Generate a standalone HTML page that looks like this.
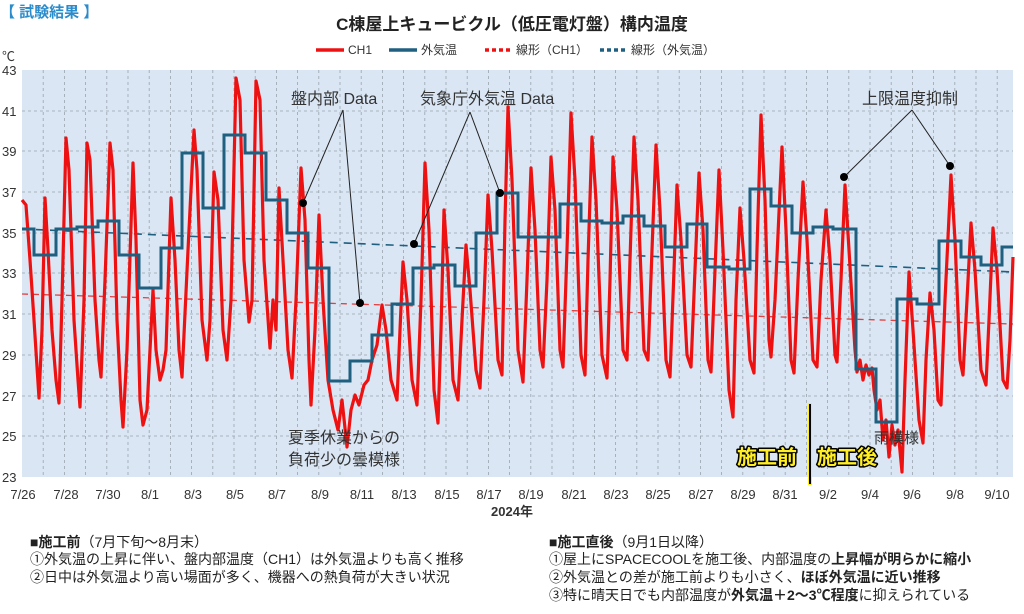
<!DOCTYPE html>
<html><head><meta charset="utf-8"><style>
body{margin:0;background:#fff;}
svg{display:block;font-family:"Liberation Sans","Noto Sans CJK JP",sans-serif;}
</style></head><body>
<svg width="1024" height="614" viewBox="0 0 1024 614" xmlns="http://www.w3.org/2000/svg">
<rect width="1024" height="614" fill="#fff"/>
<text x="0" y="17" font-size="15" font-weight="bold" fill="#2b8ccc">【 試験結果 】</text>
<text x="512" y="30" font-size="17" font-weight="bold" fill="#222" text-anchor="middle">C棟屋上キュービクル（低圧電灯盤）構内温度</text>
<g font-size="12" fill="#333">
<line x1="316" y1="50" x2="344" y2="50" stroke="#ee1111" stroke-width="3.5"/><text x="348" y="54">CH1</text>
<line x1="389" y1="50" x2="417" y2="50" stroke="#1f5f80" stroke-width="3.5"/><text x="421" y="54">外気温</text>
<line x1="485" y1="50" x2="512" y2="50" stroke="#ee1111" stroke-width="3.5" stroke-dasharray="4,3"/><text x="516" y="54">線形（CH1）</text>
<line x1="600" y1="50" x2="627" y2="50" stroke="#1f5f80" stroke-width="3.5" stroke-dasharray="4,3"/><text x="631" y="54">線形（外気温）</text>
</g>
<text x="2" y="61" font-size="13" fill="#333">℃</text>
<rect x="22" y="70" width="991" height="407" fill="#dae6f4"/>
<g stroke="#9aa4ae" stroke-width="0.8" stroke-dasharray="3,3">
<line x1="22" y1="111" x2="1013" y2="111"/><line x1="22" y1="151" x2="1013" y2="151"/>
<line x1="22" y1="192" x2="1013" y2="192"/><line x1="22" y1="233" x2="1013" y2="233"/>
<line x1="22" y1="273" x2="1013" y2="273"/><line x1="22" y1="314" x2="1013" y2="314"/>
<line x1="22" y1="355" x2="1013" y2="355"/><line x1="22" y1="396" x2="1013" y2="396"/>
<line x1="22" y1="436" x2="1013" y2="436"/>
</g>
<g id="vg" stroke="#9aa4ae" stroke-width="0.8" stroke-dasharray="3,3"></g>
<g font-size="13" fill="#333">
<text x="2" y="75">43</text><text x="2" y="116">41</text><text x="2" y="156">39</text><text x="2" y="197">37</text>
<text x="2" y="238">35</text><text x="2" y="278">33</text><text x="2" y="319">31</text><text x="2" y="360">29</text>
<text x="2" y="401">27</text><text x="2" y="441">25</text><text x="2" y="482">23</text>
</g>
<g font-size="13" fill="#333" text-anchor="middle">
<text x="23" y="499">7/26</text><text x="66" y="499">7/28</text><text x="108" y="499">7/30</text><text x="150" y="499">8/1</text>
<text x="193" y="499">8/3</text><text x="235" y="499">8/5</text><text x="277" y="499">8/7</text><text x="320" y="499">8/9</text>
<text x="362" y="499">8/11</text><text x="404" y="499">8/13</text><text x="447" y="499">8/15</text><text x="489" y="499">8/17</text>
<text x="531" y="499">8/19</text><text x="574" y="499">8/21</text><text x="616" y="499">8/23</text><text x="658" y="499">8/25</text>
<text x="701" y="499">8/27</text><text x="743" y="499">8/29</text><text x="785" y="499">8/31</text><text x="828" y="499">9/2</text>
<text x="870" y="499">9/4</text><text x="912" y="499">9/6</text><text x="955" y="499">9/8</text><text x="997" y="499">9/10</text>
</g>
<text x="512" y="516" font-size="13" font-weight="bold" fill="#333" text-anchor="middle">2024年</text>
<line x1="22" y1="229" x2="1013" y2="272" stroke="#1f5f80" stroke-width="1.6" stroke-dasharray="8,6"/>
<line x1="22" y1="294" x2="1013" y2="324" stroke="#e04040" stroke-width="1.3" stroke-dasharray="6,5"/>
<polyline fill="none" stroke="#ee1111" stroke-width="3.2" stroke-linejoin="round" points="
22,200 26,205 30,260 34,320 39,398 42,330 45,198 48,250 52,330 56,380 59,403 62,300 66,138 69,170 74,320 78,380 80,407 84,300 87,143 90,160 95,300 99,360 101,377 105,280 110,143 113,170 117,320 121,400 123,427 127,350 133,163 136,240 140,400 143,425 147,410 153,290 156,350 160,380 163,370 166,350 171,198 175,260 179,350 182,377 188,250 194,130 197,170 202,320 207,360 210,320 214,172 218,200 223,330 227,360 231,300 236,78 240,100 244,260 249,322 252,300 256,81 260,100 264,260 270,348 273,300 276,330 279,188 283,260 288,350 292,378 296,300 301,168 305,220 309,360 311,405 315,330 319,215 323,300 328,380 333,410 338,430 342,400 347,447 351,410 355,395 359,405 364,385 368,380 372,360 377,345 382,305 386,330 391,380 397,400 400,330 403,262 407,300 412,380 417,405 421,300 425,163 429,230 434,390 438,423 441,330 444,210 448,270 453,380 458,400 462,320 466,245 470,290 476,370 480,388 484,300 488,195 492,250 498,360 502,375 505,220 508,107 512,180 518,350 523,382 527,280 531,168 535,230 540,350 543,367 547,280 551,157 555,210 560,350 563,367 567,250 571,113 575,180 581,355 585,375 588,260 592,137 596,200 602,355 607,378 610,280 613,157 617,210 623,350 627,360 630,260 634,137 638,200 644,350 648,360 652,250 656,145 660,210 666,360 670,377 674,270 677,185 681,240 687,355 691,367 695,270 699,173 703,230 708,360 711,372 715,270 719,170 723,250 729,390 733,417 736,300 740,208 744,260 750,360 754,373 757,250 761,115 765,200 769,340 771,357 775,300 782,147 786,230 791,360 794,373 798,280 803,182 807,240 813,360 817,367 821,280 826,210 830,260 835,355 837,362 841,280 845,185 849,250 855,350 857,372 860,360 863,380 866,365 869,375 872,368 874,390 877,410 880,400 883,440 886,420 889,457 892,425 895,445 898,430 902,472 905,380 909,272 913,330 919,420 923,443 926,360 930,293 934,330 938,400 941,405 945,300 951,175 955,240 960,360 963,375 967,300 971,223 975,270 981,370 986,385 989,320 993,228 997,270 1003,380 1007,388 1010,340 1013,257"/>
<polyline fill="none" stroke="#1f5f80" stroke-width="3" points="
22,229 34,229 34,255 56,255 56,229 77,229 77,227 98,227 98,221 119,221 119,255 139,255 139,288 161,288 161,248 182,248 182,153 203,153 203,208 224,208 224,135 245,135 245,153 266,153 266,200 287,200 287,233 308,233 308,268 329,268 329,381 350,381 350,361 372,361 372,335 392,335 392,304 413,304 413,268 434,268 434,265 455,265 455,286 476,286 476,233 497,233 497,193 518,193 518,237 560,237 560,204 581,204 581,221 602,221 602,223 623,223 623,216 644,216 644,226 665,226 665,247 687,247 687,224 707,224 707,267 729,267 729,269 750,269 750,189 771,189 771,206 792,206 792,233 813,233 813,227 833,227 833,229 856,229 856,369 876,369 876,422 897,422 897,299 917,299 917,304 939,304 939,241 961,241 961,257 981,257 981,265 1002,265 1002,247 1013,247"/>
<g stroke="#222" stroke-width="1" fill="none">
<line x1="343" y1="110" x2="303" y2="203"/><line x1="343" y1="110" x2="360" y2="303"/>
<line x1="470" y1="112" x2="414" y2="244"/><line x1="470" y1="112" x2="500" y2="193"/>
<line x1="912" y1="110" x2="844" y2="177"/><line x1="912" y1="110" x2="950" y2="166"/>
</g>
<g fill="#000">
<circle cx="303" cy="203" r="4"/><circle cx="360" cy="303" r="4"/><circle cx="414" cy="244" r="4"/>
<circle cx="500" cy="193" r="4"/><circle cx="844" cy="177" r="4"/><circle cx="950" cy="166" r="4"/>
</g>
<g font-size="16" fill="#333">
<text x="291" y="104">盤内部 Data</text>
<text x="420" y="104">気象庁外気温 Data</text>
<text x="862" y="104">上限温度抑制</text>
<text x="288" y="443">夏季休業からの</text>
<text x="288" y="465">負荷少の曇模様</text>
<text x="874" y="443" font-size="15">雨模様</text>
</g>
<line x1="810" y1="403" x2="810" y2="485" stroke="#ffee22" stroke-width="4"/>
<line x1="810" y1="404" x2="810" y2="484" stroke="#000" stroke-width="2"/>
<g font-size="20" font-weight="bold" fill="#ffee22" stroke="#000" stroke-width="3" paint-order="stroke" stroke-linejoin="round">
<text x="737" y="464">施工前</text><text x="817" y="464">施工後</text>
</g>
<g font-size="14" fill="#222">
<text x="30" y="547"><tspan font-weight="bold">■施工前</tspan>（7月下旬～8月末）</text>
<text x="30" y="564">①外気温の上昇に伴い、盤内部温度（CH1）は外気温よりも高く推移</text>
<text x="30" y="582">②日中は外気温より高い場面が多く、機器への熱負荷が大きい状況</text>
<text x="549" y="547"><tspan font-weight="bold">■施工直後</tspan>（9月1日以降）</text>
<text x="549" y="564">①屋上にSPACECOOLを施工後、内部温度の<tspan font-weight="bold">上昇幅が明らかに縮小</tspan></text>
<text x="549" y="582">②外気温との差が施工前よりも小さく、<tspan font-weight="bold">ほぼ外気温に近い推移</tspan></text>
<text x="549" y="600">③特に晴天日でも内部温度が<tspan font-weight="bold">外気温＋2～3℃程度</tspan>に抑えられている</text>
</g>
</svg>
<script>
var g=document.getElementById('vg');var s='';
for(var i=1;i<=46;i++){var x=(22+i*21.2).toFixed(1);s+='<line x1="'+x+'" y1="70" x2="'+x+'" y2="477"/>';}
g.innerHTML=s;
</script>
</body></html>
